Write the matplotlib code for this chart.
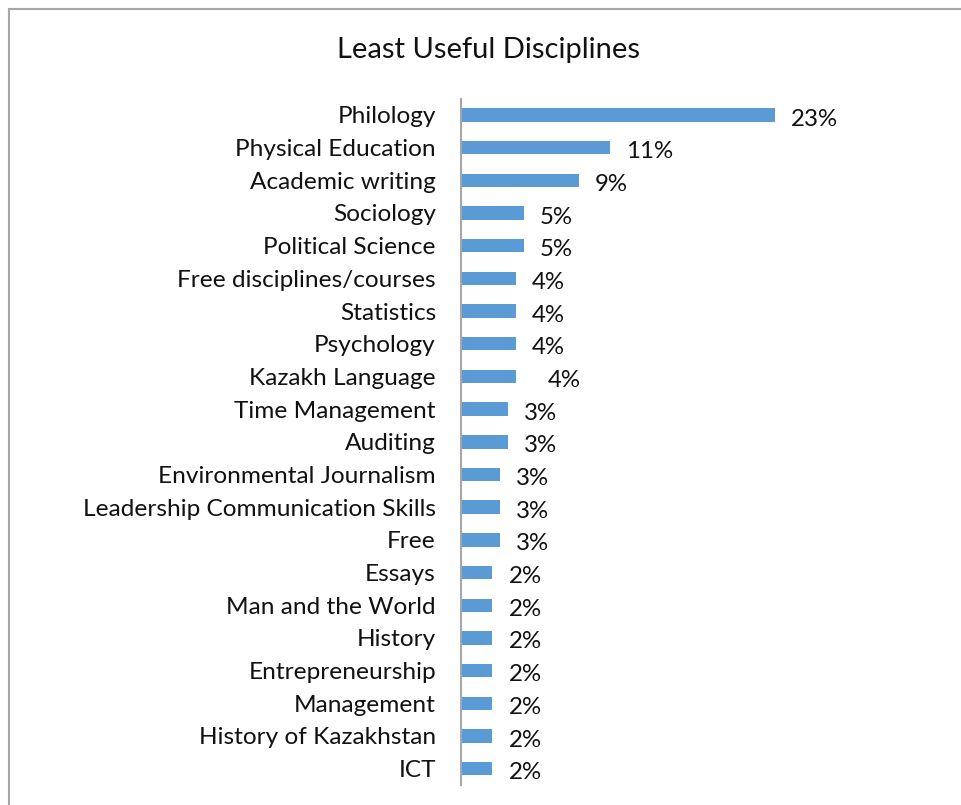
import numpy as np
import matplotlib.pyplot as plt
from matplotlib.lines import Line2D

plt.rcParams['font.family'] = ['Lato', 'DejaVu Sans']

# survey answers, share of respondents in percent
disciplines = ['Philology', 'Physical Education', 'Academic writing', 'Sociology',
               'Political Science', 'Free disciplines/courses', 'Statistics',
               'Psychology', 'Kazakh Language', 'Time Management', 'Auditing',
               'Environmental Journalism', 'Leadership Communication Skills', 'Free',
               'Essays', 'Man and the World', 'History', 'Entrepreneurship',
               'Management', 'History of Kazakhstan', 'ICT']
shares = [22.86, 10.86, 8.57, 4.57, 4.57, 4.00, 4.00, 4.00, 4.00, 3.43, 3.43,
          2.86, 2.86, 2.86, 2.29, 2.29, 2.29, 2.29, 2.29, 2.29, 2.29]

W, H = 962, 805
fig = plt.figure(figsize=(W / 100, H / 100), dpi=100)
ax = fig.add_axes([461 / W, 1 - 785 / H, 411.6 / W, (785 - 98.6) / H])

y = np.arange(len(disciplines))
ax.barh(y, shares, height=0.41, color='#5b9bd5')
ax.set_ylim(len(disciplines) - 0.5, -0.5)
ax.set_xlim(0, 30)

ax.set_yticks(y)
ax.set_yticklabels(disciplines, fontsize=17.6, color='#111111')
ax.tick_params(axis='y', length=0, pad=18)
for lab in ax.get_yticklabels():
    lab.set_verticalalignment('center_baseline')
ax.set_xticks([])

for s in ['top', 'right', 'bottom']:
    ax.spines[s].set_visible(False)
ax.spines['left'].set_color('#a6a6a6')
ax.spines['left'].set_linewidth(1.5)

for i, (name, v) in enumerate(zip(disciplines, shares)):
    dx = 23 if name == 'Kazakh Language' else 11.5
    ax.annotate('{:.0f}%'.format(v), xy=(v, i), xytext=(dx, -1.5),
                textcoords='offset points', va='center_baseline', ha='left',
                fontsize=17.3, color='#111111')

fig.text(489 / W, 1 - 50 / H, 'Least Useful Disciplines', ha='center',
         va='center', fontsize=21, color='#111111')

# chart frame
fig.add_artist(Line2D([8.5 / W, 1], [1 - 9 / H, 1 - 9 / H], color='#a6a6a6', lw=1.5))
fig.add_artist(Line2D([8.5 / W, 8.5 / W], [0, 1 - 9 / H], color='#a6a6a6', lw=1.5))

fig.savefig('out.png', dpi=100)
